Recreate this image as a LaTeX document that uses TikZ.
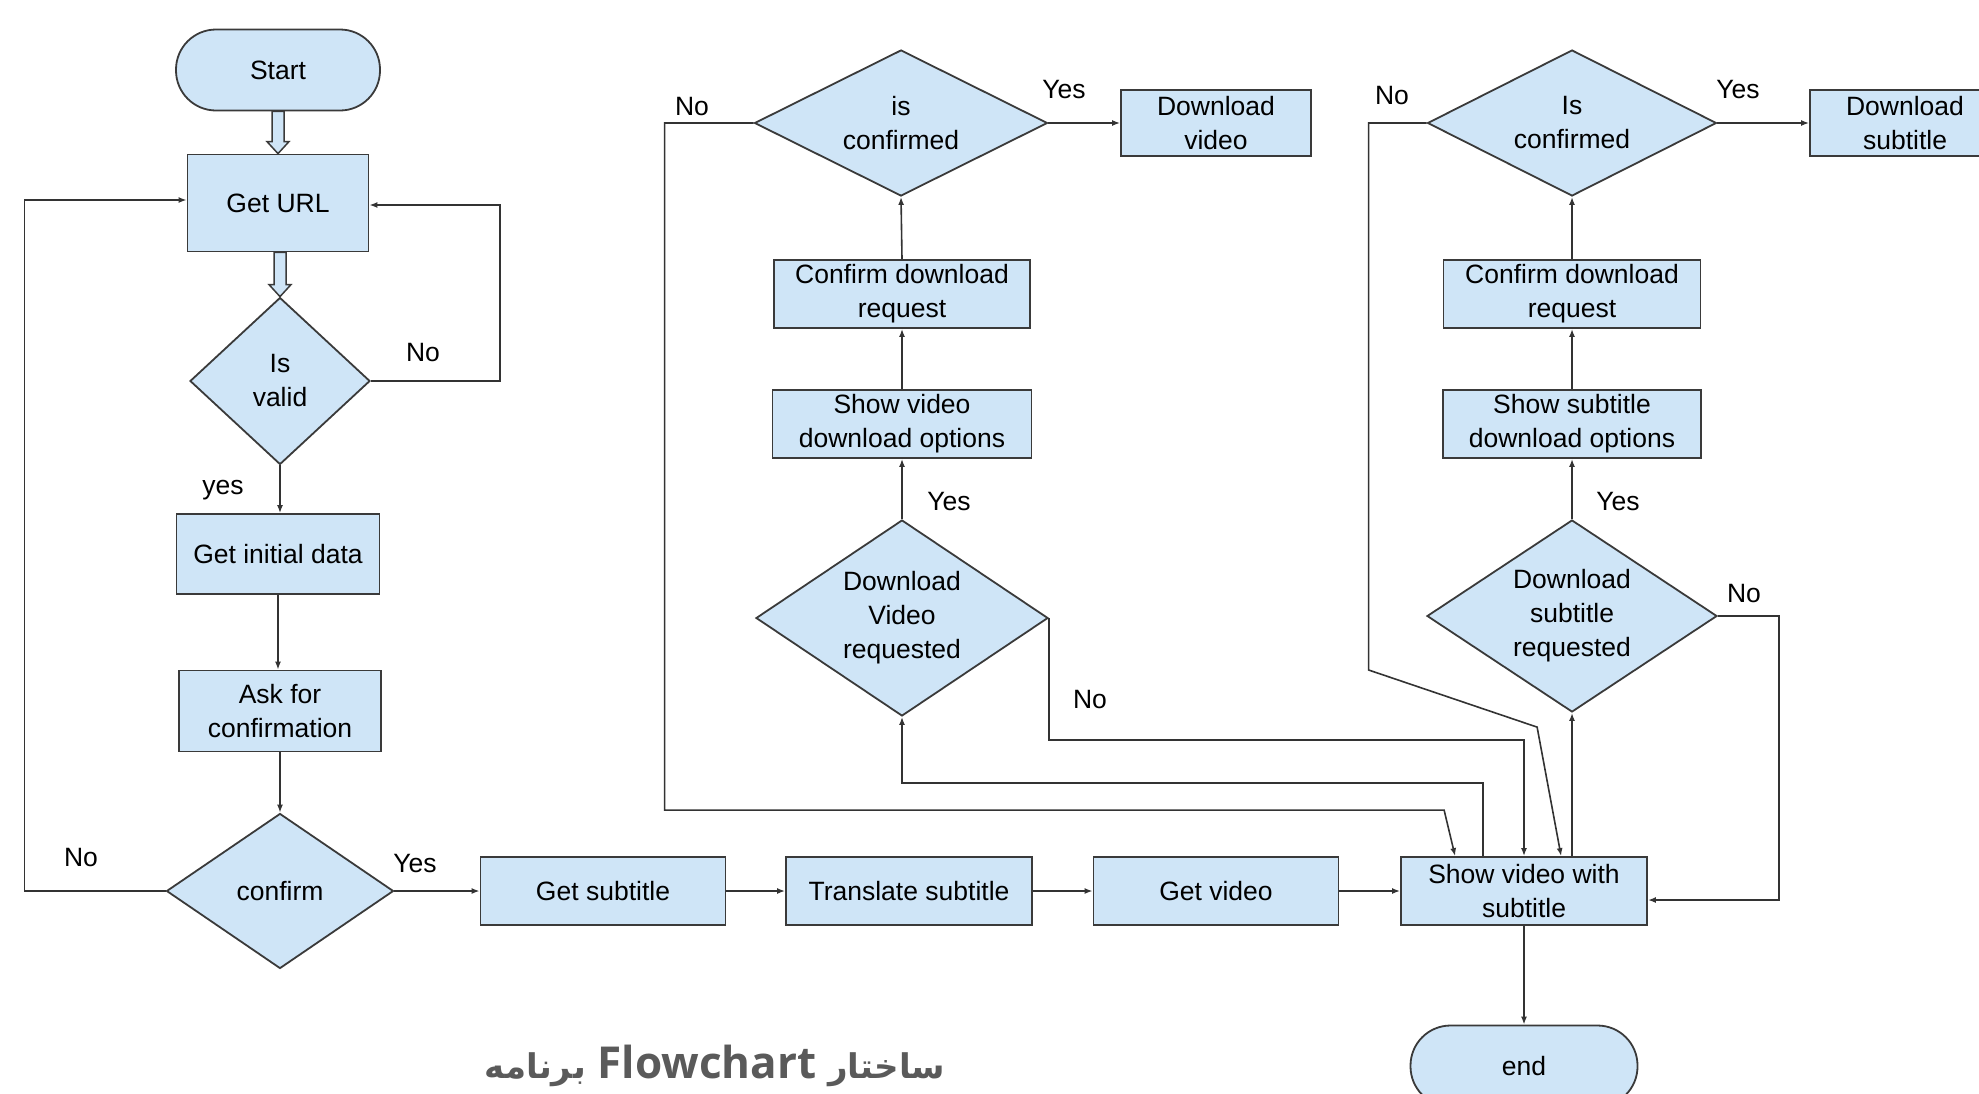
\documentclass[tikz,border=0pt]{standalone}
\usepackage{fontspec}
\setmainfont{Liberation Sans}
\newfontfamily\arabicfont[Script=Arabic]{DejaVu Sans}
\newfontfamily\titlefont{Open Sans}
\TeXXeTstate=1
\usepackage{xcolor}
\usepackage{tikz}
\usetikzlibrary{
  arrows.meta,
  positioning,
  calc,
  shapes.geometric}
\definecolor{boxfill}{HTML}{CFE5F7}
\definecolor{boxline}{HTML}{3A3A3A}
\definecolor{flowline}{HTML}{333333}
\definecolor{titlegray}{HTML}{5A5A5A}
\tikzset{every picture/.style={font=\fontsize{13.25}{17}\selectfont}}

\begin{document}
\begin{tikzpicture}[x=0.5pt, y=-0.5pt,
  proc/.style={draw=boxline, fill=boxfill, line width=0.9pt, align=center, inner sep=1.5pt},
  term/.style={proc, rounded corners=20pt},
  dec/.style={draw=boxline, fill=boxfill, line width=0.9pt, diamond, align=center, inner sep=0pt},
  flow/.style={draw=flowline, line width=0.8pt, -{Latex[length=4pt,width=3pt]}},
  hollow/.style={draw=boxline, fill=boxfill, line width=0.75pt, line join=miter},
  lbl/.style={inner sep=0pt}]
\useasboundingbox (0,0) rectangle (1979,1093);
\clip (0,0) rectangle (1979,1093);

%Left column
\node[term, minimum width=102pt, minimum height=40.5pt] (start) at (278,70) {Start};
\node[proc, minimum width=90.5pt, minimum height=48.5pt] (url) at (278,203) {Get URL};
\node[dec, aspect=1.08, minimum width=90pt, minimum height=83.5pt] (valid) at (280,381) {Is\\valid};
\node[proc, minimum width=101.5pt, minimum height=40pt] (init) at (278,554) {Get initial data};
\node[proc, minimum width=101pt, minimum height=40.5pt] (ask) at (280,711) {Ask for\\confirmation};
\node[dec, aspect=1.46, minimum width=113.5pt, minimum height=77.5pt] (confirm) at (280,891) {confirm};

%Bottom row
\node[proc, minimum width=122.5pt, minimum height=34pt] (getsub) at (603,891) {Get subtitle};
\node[proc, minimum width=123pt, minimum height=34pt] (trans) at (909,891) {Translate subtitle};
\node[proc, minimum width=122.5pt, minimum height=34pt] (getvid) at (1216,891) {Get video};
\node[proc, minimum width=123pt, minimum height=34pt] (show) at (1524,891) {Show video with\\subtitle};
\node[term, minimum width=113.5pt, minimum height=40.5pt] (finish) at (1524,1066) {end};

%Video column
\node[dec, aspect=2, minimum width=146.5pt, minimum height=73pt] (visconf) at (901,123) {is\\confirmed};
\node[proc, minimum width=95pt, minimum height=33pt] (dlvid) at (1216,123) {Download\\video};
\node[proc, minimum width=128pt, minimum height=34pt] (vconf) at (902,294) {Confirm download\\request};
\node[proc, minimum width=129.5pt, minimum height=34pt] (vopts) at (902,424) {Show video\\download options};
\node[dec, aspect=1.49, minimum width=146pt, minimum height=98pt] (vreq) at (902,618) {Download\\Video\\requested};

%Subtitle column
\node[dec, aspect=1.98, minimum width=144.5pt, minimum height=73pt] (sisconf) at (1572,123) {Is\\confirmed};
\node[proc, minimum width=95pt, minimum height=33pt] (dlsub) at (1905,123) {Download\\subtitle};
\node[proc, minimum width=128.5pt, minimum height=34pt] (sconf) at (1572,294) {Confirm download\\request};
\node[proc, minimum width=129pt, minimum height=34pt] (sopts) at (1572,424) {Show subtitle\\download options};
\node[dec, aspect=1.51, minimum width=145pt, minimum height=96pt] (sreq) at (1572,616) {Download\\subtitle\\requested};

%Labels
\node[lbl] (lnourl) at (423,353) {No};
\node[lbl] (lyesurl) at (223,490) {yes};
\node[lbl] (lnoconf) at (81,857) {No};
\node[lbl] (lyesconf) at (415,863) {Yes};
\node[lbl] (lyesvid) at (1064,90) {Yes};
\node[lbl] (lnovid) at (692,107) {No};
\node[lbl] (lyesvreq) at (949,502) {Yes};
\node[lbl] (lnovreq) at (1090,699) {No};
\node[lbl] (lyessub) at (1738,90) {Yes};
\node[lbl] (lnosub) at (1392,96) {No};
\node[lbl] (lyessreq) at (1618,502) {Yes};
\node[lbl] (lnosreq) at (1744,593) {No};

\node[text=titlegray, font=\fontsize{17}{20}\selectfont] (title) at (715,1066)
  {\arabicfont\bfseries\beginR ساختار \beginL{\titlefont\fontsize{22}{24}\selectfont Flowchart}\endL{} برنامه\endR};

%Hollow arrows
\draw[hollow] ($(start.south)+(-6,0)$) -- ($(url.north)+(-6,-12)$) -- ++(-5,0) -- (url.north)
  -- ($(url.north)+(11,-12)$) -- ++(-5,0) -- ($(start.south)+(6,0)$) -- cycle;
\draw[hollow] ($(url.south -| valid.north)+(-6,0)$) -- ($(valid.north)+(-6,-12)$) -- ++(-5,0) -- (valid.north)
  -- ($(valid.north)+(11,-12)$) -- ++(-5,0) -- ($(url.south -| valid.north)+(6,0)$) -- cycle;

%Left connectors
\draw[flow] (valid.south) -- (valid.south |- init.north);
\draw[flow] (init.south) -- (init.south |- ask.north);
\draw[flow] (ask.south) -- (confirm.north);
\draw[flow] (valid.east) -- ++(129,0) |- ($(url.east)+(0,2)$);
\draw[flow] (confirm.west) -- ++(-141,0) |- ($(url.west)+(0,-3)$);

%Bottom connectors
\draw[flow] (confirm.east) -- (getsub.west);
\draw[flow] (getsub.east) -- (trans.west);
\draw[flow] (trans.east) -- (getvid.west);
\draw[flow] (getvid.east) -- (show.west);
\draw[flow] (show.south) -- (finish.north);

%Video connectors
\draw[flow] (vreq.north) -- (vopts.south);
\draw[flow] (vopts.north) -- (vconf.south);
\draw[flow] (vconf.north) -- (visconf.south);
\draw[flow] (visconf.east) -- (dlvid.west);
\draw[flow] (visconf.west) -- ++(-89,0) |- ($(show.north west)+(44,-46)$) -- ($(show.north west)+(55,0)$);
\draw[flow] (vreq.east) -- ++(0,122) -| (show.north);
\draw[flow] ($(show.north west)+(83,0)$) |- ($(vreq.south)+(0,66)$) -- (vreq.south);

%Subtitle connectors
\draw[flow] (sreq.north) -- (sopts.south);
\draw[flow] (sopts.north) -- (sconf.south);
\draw[flow] (sconf.north) -- (sisconf.south);
\draw[flow] (sisconf.east) -- (dlsub.west);
\draw[flow] (sisconf.west) -- ++(-58,0) -- ++(0,547) -- ($(show.north west)+(137,-129)$) -- ($(show.north west)+(161,0)$);
\draw[flow] (sreq.east) -- ++(61,0) |- ($(show.east)+(0,9)$);
\draw[flow] (show.north -| sreq.south) -- (sreq.south);
\end{tikzpicture}
\end{document}
